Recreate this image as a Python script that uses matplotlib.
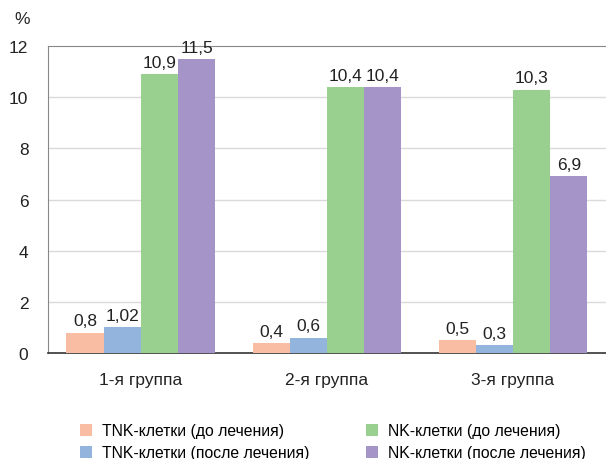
import matplotlib.pyplot as plt
import numpy as np

plt.rcParams['font.family'] = ['Liberation Sans', 'DejaVu Sans']

groups = ['1-я группа', '2-я группа', '3-я группа']
series = ['TNK-клетки (до лечения)', 'TNK-клетки (после лечения)',
          'NK-клетки (до лечения)', 'NK-клетки (после лечения)']
tnk_before = [0.8, 0.4, 0.5]
tnk_after = [1.02, 0.6, 0.3]
nk_before = [10.9, 10.4, 10.3]
nk_after = [11.5, 10.4, 6.9]
colors = ['#F9BDA4', '#93B4DD', '#99CF8F', '#A594C8']

fig = plt.figure(figsize=(6.06, 4.6), dpi=100)
ax = fig.add_axes([0.079, 0.2304, 0.921, 0.6674])

x = np.arange(len(groups))
w = 0.2
handles = []
for i, (vals, c, name) in enumerate(zip([tnk_before, tnk_after, nk_before, nk_after], colors, series)):
    bars = ax.bar(x + (i - 1.5) * w, vals, w, color=c, label=name, zorder=3)
    ax.bar_label(bars, labels=[str(v).replace('.', ',') for v in vals],
                 padding=3, fontsize=12.5, color='#222222')
    handles.append(bars)

ax.set_xlim(-0.5, 2.5)
ax.set_ylim(0, 12)
ax.set_yticks(range(0, 13, 2))
ax.set_xticks(x)
ax.set_xticklabels(groups)
ax.tick_params(axis='both', length=0, labelsize=12.5, colors='#222222')
ax.tick_params(axis='y', pad=14)
ax.tick_params(axis='x', pad=14)
for yv in range(2, 12, 2):
    ax.axhline(yv, color='#DADADA', lw=1, zorder=1)
ax.spines['right'].set_visible(False)
ax.spines['top'].set_color('#888888')
ax.spines['left'].set_color('#888888')
ax.spines['bottom'].set_color('#333333')
ax.spines['bottom'].set_linewidth(1.2)

fig.text(0.023, 0.957, '%', fontsize=12.5, color='#222222', va='center')

fig.legend(handles=handles, labels=series, ncol=2, loc='upper left',
           bbox_to_anchor=(0.1315, 0.0776), bbox_transform=fig.transFigure,
           frameon=False, fontsize=11.3, handlelength=0.8, handleheight=0.8,
           handletextpad=0.6, columnspacing=3.6, labelspacing=0.45,
           borderaxespad=0, borderpad=0)

fig.savefig('out.png', dpi=100)
